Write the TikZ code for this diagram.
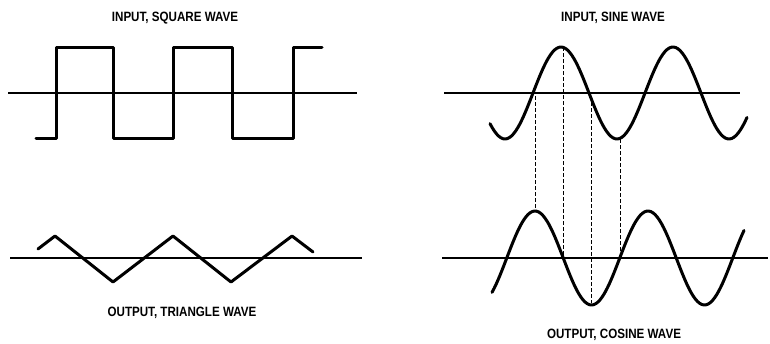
\documentclass[tikz,border=0pt]{standalone}
\usepackage{fontspec}
\newfontfamily\lblfont[FakeStretch=0.86]{Liberation Sans Bold}
\tikzset{
  axisline/.style={line width=1.1pt},
  wave/.style={line width=3pt, line join=round, line cap=round},
  guide/.style={line width=1pt, dash pattern=on 4pt off 2pt},
  caption/.style={font=\lblfont\fontsize{13.5}{14}\selectfont, inner sep=0pt}
}
\begin{document}
\begin{tikzpicture}[x=1pt,y=-1pt]
\useasboundingbox (0,0) rectangle (770,343);
% ---------- captions
\node[caption] (t1) at (175,18) {INPUT, SQUARE WAVE};
\node[caption] (t2) at (182,313) {OUTPUT, TRIANGLE WAVE};
\node[caption] (t3) at (613,18) {INPUT, SINE WAVE};
\node[caption] (t4) at (614,335) {OUTPUT, COSINE WAVE};
% ---------- square wave
\draw[axisline] (8,93) -- (357,93);
\draw[wave] (36,138) -- (56,138) -- (56,47) -- (113,47) -- (113,138) -- (173,138)
  -- (173,47) -- (232,47) -- (232,138) -- (293,138) -- (293,47) -- (322,47);
% ---------- triangle wave
\draw[axisline] (10,258) -- (362,258);
\draw[wave] (38,249) -- (55,236) -- (113,282) -- (173,236) -- (231,282) -- (292,236) -- (313,252);
% ---------- sine wave
\draw[axisline] (444,93) -- (740,93);
\draw[wave] plot[domain=490:747, samples=120, smooth] (\x, {93 - 46*sin(3.2143*(\x-533))});
% ---------- cosine wave
\draw[axisline] (442,258) -- (768,258);
\draw[wave] plot[domain=492:744, samples=120, smooth] (\x, {258 - 47*cos(3.1858*(\x-535))});
% ---------- dashed guides
\coordinate (a1) at (535,96);  \coordinate (b1) at (535,212);
\coordinate (a2) at (563,47);  \coordinate (b2) at (563,256);
\coordinate (a3) at (591,96);  \coordinate (b3) at (591,303);
\coordinate (a4) at (620,139); \coordinate (b4) at (620,258);
\draw[guide] (a1) -- (b1);
\draw[guide] (a2) -- (b2);
\draw[guide] (a3) -- (b3);
\draw[guide] (a4) -- (b4);
\end{tikzpicture}
\end{document}
